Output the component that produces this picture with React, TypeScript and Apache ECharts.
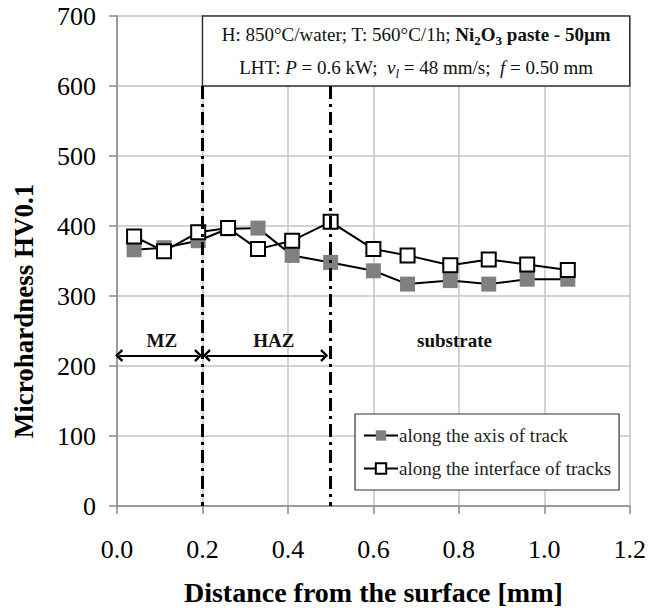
import React, { useEffect, useRef } from "react";
import * as echarts from "echarts";

// ---- data ----
const distance = [0.04, 0.11, 0.19, 0.26, 0.33, 0.41, 0.5, 0.6, 0.68, 0.78, 0.87, 0.96, 1.055];
const axisTrack = [366, 369, 379, 396, 397, 358, 348, 336, 317, 322, 317, 324, 324];
const interfaceTracks = [385, 364, 391, 397, 367, 379, 406, 367, 358, 344, 352, 345, 337];
const seriesNames = ["along the axis of track", "along the interface of tracks"];

const xMin = 0, xMax = 1.2, xStep = 0.2;
const yMin = 0, yMax = 700, yStep = 100;

const zoneBoundaries = [0.2, 0.5];
const boundaryTop = 600;
const zoneArrows = [[0.005, 0.19], [0.21, 0.485]];
const arrowLevel = 215;
const zoneLabels = ["MZ", "HAZ", "substrate"];
const zoneLabelX = [0.105, 0.367, 0.79];
const zoneLabelY = 236;
const infoBox = [[0.2, 700], [1.2, 600]];

const SERIF = "Liberation Serif";

const chevron = "path://M0,9 L10,0 L20,9 L17,11 L10,4.5 L3,11 Z";

export default function App() {
  const ref = useRef<HTMLDivElement>(null);
  useEffect(() => {
    document.body.style.margin = "0";
    const chart = echarts.init(ref.current!, null, { renderer: "svg" });
    const tick = { fontFamily: SERIF, fontSize: 26, color: "#000" };
    const opt: any = {
      animation: false,
      backgroundColor: "#fff",
      textStyle: { fontFamily: SERIF },
      grid: { left: 117, right: 19, top: 16, bottom: 104, containLabel: false },
      xAxis: {
        type: "value",
        min: xMin,
        max: xMax,
        interval: xStep,
        name: "Distance from the surface [mm]",
        nameLocation: "middle",
        nameGap: 72,
        nameTextStyle: { fontFamily: SERIF, fontSize: 28, fontWeight: "bold", color: "#000" },
        axisLine: { lineStyle: { color: "#888", width: 1.5 } },
        axisTick: { show: true, length: 8, lineStyle: { color: "#888", width: 1.5 } },
        axisLabel: { ...tick, margin: 30, formatter: (v: number) => v.toFixed(1) },
        splitLine: { show: true, lineStyle: { color: "#c4c4c4", width: 1.5 } },
      },
      yAxis: {
        type: "value",
        min: yMin,
        max: yMax,
        interval: yStep,
        name: "Microhardness HV0.1",
        nameLocation: "middle",
        nameGap: 80,
        nameTextStyle: { fontFamily: SERIF, fontSize: 27, fontWeight: "bold", color: "#000", padding: [0, 100, 0, 0] },
        axisLine: { show: true, lineStyle: { color: "#888", width: 1.5 } },
        axisTick: { show: true, length: 8, lineStyle: { color: "#888", width: 1.5 } },
        axisLabel: { ...tick, margin: 21 },
        splitLine: { show: true, lineStyle: { color: "#c4c4c4", width: 1.5 } },
      },
      legend: {
        data: seriesNames,
        orient: "vertical",
        left: 355,
        top: 414,
        backgroundColor: "#fff",
        borderColor: "#333",
        borderWidth: 1.2,
        borderRadius: 0,
        padding: [12, 8, 12, 8],
        itemGap: 14,
        itemWidth: 34,
        itemHeight: 13,
        textStyle: { fontFamily: SERIF, fontSize: 19, color: "#222", padding: [0, 0, 0, -4] },
      },
      series: [
        {
          name: "zones",
          type: "line",
          data: [],
          silent: true,
          markArea: {
            silent: true,
            itemStyle: { color: "#fff", borderColor: "#333", borderWidth: 1.5 },
            label: {
              show: true,
              position: "inside",
              formatter:
                "{n|H: 850°C/water; T: 560°C/1h; }{b|Ni}{bs|2}{b|O}{bs|3}{b| paste - 50µm}\n" +
                "{n|LHT: }{i|P}{n| = 0.6 kW;  }{i|v}{is|l}{n| = 48 mm/s;  }{i|f}{n| = 0.50 mm}",
              rich: {
                n: { fontFamily: SERIF, fontSize: 19, color: "#111", lineHeight: 33 },
                b: { fontFamily: SERIF, fontSize: 19, fontWeight: "bold", color: "#111", lineHeight: 33 },
                bs: { fontFamily: SERIF, fontSize: 13, fontWeight: "bold", color: "#111", lineHeight: 33, verticalAlign: "bottom", padding: [0, 0, 4, 0] },
                i: { fontFamily: SERIF, fontSize: 19, fontStyle: "italic", color: "#111", lineHeight: 33 },
                is: { fontFamily: SERIF, fontSize: 13, fontStyle: "italic", color: "#111", lineHeight: 33, verticalAlign: "bottom", padding: [0, 0, 4, 0] },
              },
            },
            data: [[{ coord: infoBox[0] }, { coord: infoBox[1] }]],
          },
          markLine: {
            silent: true,
            animation: false,
            label: { show: false },
            data: [
              ...zoneBoundaries.map((x) => [
                { coord: [x, boundaryTop], symbol: "none", lineStyle: { color: "#000", width: 3, type: [13, 5, 3, 5] } },
                { coord: [x, yMin], symbol: "none" },
              ]),
              ...zoneArrows.map(([a, b]) => [
                { coord: [a, arrowLevel], symbol: chevron, symbolSize: [13, 8], lineStyle: { color: "#000", width: 2, type: "solid" } },
                { coord: [b, arrowLevel], symbol: chevron, symbolSize: [13, 8] },
              ]),
            ],
          },
          markPoint: {
            silent: true,
            symbol: "circle",
            symbolSize: 1,
            itemStyle: { color: "rgba(0,0,0,0)" },
            label: {
              show: true,
              position: "inside",
              formatter: "{b}",
              fontFamily: SERIF,
              fontWeight: "bold",
              fontSize: 19,
              color: "#111",
            },
            data: zoneLabels.map((name, i) => ({ name, coord: [zoneLabelX[i], zoneLabelY] })),
          },
        },
        {
          name: seriesNames[0],
          type: "line",
          data: distance.map((x, i) => [x, axisTrack[i]]),
          symbol: "rect",
          symbolSize: 15,
          showAllSymbol: true,
          lineStyle: { color: "#000", width: 2 },
          itemStyle: { color: "#808080", borderWidth: 0 },
          z: 3,
        },
        {
          name: seriesNames[1],
          type: "line",
          data: distance.map((x, i) => [x, interfaceTracks[i]]),
          symbol: "rect",
          symbolSize: 14,
          showAllSymbol: true,
          lineStyle: { color: "#000", width: 2 },
          itemStyle: { color: "#fff", borderColor: "#000", borderWidth: 2 },
          z: 4,
        },
      ],
    };
    chart.setOption(opt);
    return () => chart.dispose();
  }, []);
  return <div ref={ref} style={{ position: "fixed", left: 0, top: 0, width: 649, height: 611 }} />;
}
